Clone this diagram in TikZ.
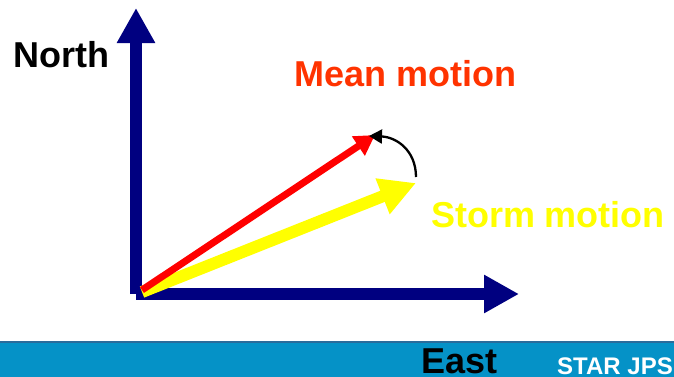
\documentclass[tikz,border=0pt]{standalone}
\usepackage{fontspec}
\setmainfont{Liberation Sans}
\usepackage{tikz}
\usetikzlibrary{
  arrows.meta,
  positioning,
  calc
}
\definecolor{vecNavy}{HTML}{000080}
\definecolor{vecRed}{HTML}{FF0000}
\definecolor{vecOrange}{HTML}{FF3300}
\definecolor{vecYellow}{HTML}{FFFF00}
\definecolor{vecBand}{HTML}{0592C7}
\definecolor{vecBandEdge}{HTML}{2A6C9B}
\tikzset{
  axis/.style={vecNavy, line width=12bp, line cap=butt,
    -{Triangle[length=35bp, width=36bp]}},
  meanvec/.style={vecRed, line width=7bp,
    -{Triangle[length=20bp, width=22bp]}},
  stormvec/.style={vecYellow, line width=12bp,
    -{Triangle[length=36bp, width=36bp]}},
  turn/.style={black, line width=2.3bp,
    -{Triangle[length=13bp, width=14bp]}},
  lbl/.style={inner sep=0pt, font=\fontsize{36bp}{40bp}\selectfont\bfseries},
  tag/.style={inner sep=0pt, text=white, font=\fontsize{24bp}{28bp}\selectfont\bfseries},
  band/.style={fill=vecBand, draw=vecBandEdge, line width=1.2bp}
}
\begin{document}
\begin{tikzpicture}[x=1bp, y=-1bp]
  \useasboundingbox (0,0) rectangle (674,376);
  % bottom band
  \path[band] (-1,342) rectangle (676,378);

  % points
  \coordinate (corner) at (136,294);
  \coordinate (origin) at (142,291);
  \coordinate (northtip) at (136,8);
  \coordinate (easttip) at (519,294);
  \coordinate (meantip) at (375,135);
  \coordinate (stormtip) at (416,183);
  \coordinate (turnstart) at (416,177);
  \coordinate (turnend) at (369,136);

  % axes
  \draw[axis] (corner) -- (northtip);
  \draw[axis] (corner) -- (easttip);

  % vectors
  \draw[stormvec] ($(origin)+(0,1)$) -- (stormtip);
  \draw[meanvec] ($(origin)+(0,-1)$) -- (meantip);
  \draw[turn] (turnstart) .. controls (416,150) and (396,137) .. (turnend);

  % labels
  \node[lbl, anchor=base west] (north) at (13,67) {North};
  \node[lbl, anchor=base, text=vecOrange] (mean) at (405.5,86) {Mean motion};
  \node[lbl, anchor=base, text=vecYellow] (storm) at (548,227) {Storm motion};
  \node[lbl, anchor=base] (east) at (459.5,373) {East};
  \node[tag, anchor=base] (star) at (615,374) {STAR JPS};
\end{tikzpicture}
\end{document}
